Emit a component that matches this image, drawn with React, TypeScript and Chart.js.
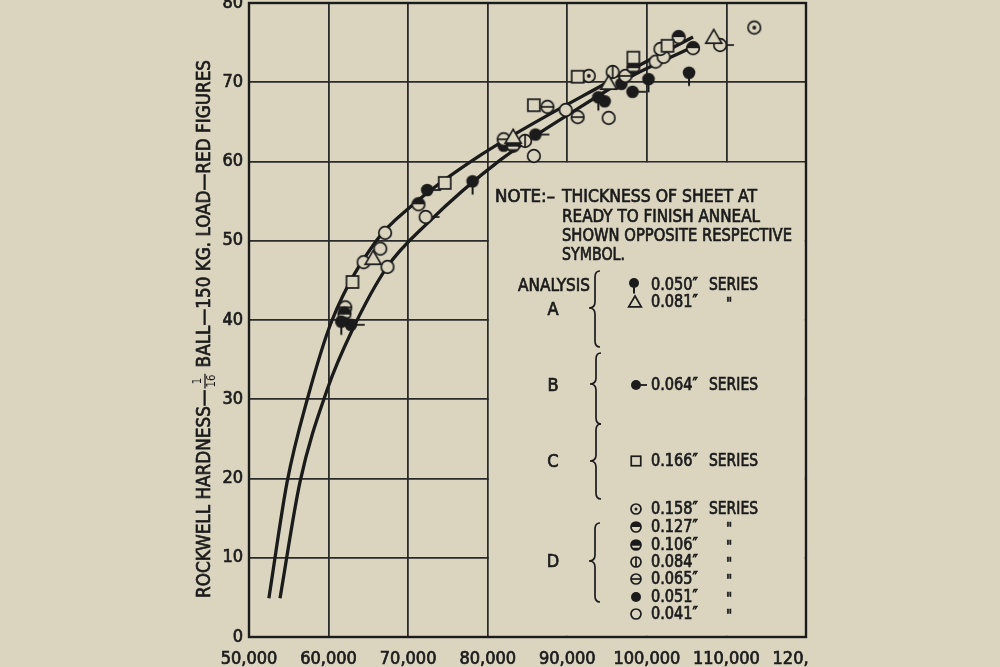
import React, { useEffect, useRef } from 'react';
import { Chart, registerables } from 'chart.js';

Chart.register(...registerables);

const BG = '#dbd5c0';
const INK = '#1b1b1b';
const GRID = '#2a2a2a';
const FONT = '"DejaVu Sans Condensed", "Liberation Sans Narrow", "DejaVu Sans", sans-serif';
const STROKE = 0.7;

// axis ticks
const xTickValues = [50000, 60000, 70000, 80000, 90000, 100000, 110000, 120000];
const yTickValues = [0, 10, 20, 30, 40, 50, 60, 70, 80];

// Analysis A
const a050 = [[61600, 39.8], [78100, 57.5], [93900, 68.1], [100200, 70.4], [105300, 71.2]];
const a081 = [[65600, 47.8], [83200, 63.1], [95200, 69.9], [108400, 75.7]];
// Analysis B
const b064 = [[62800, 39.4], [72400, 56.4], [86000, 63.4], [98200, 68.8]];
// Analysis C
const c166 = [[63000, 44.8], [74600, 57.3], [85800, 67.1], [91300, 70.7], [98300, 73.1], [102600, 74.6]];
// Analysis D
const d158 = [[92700, 70.8], [113500, 76.9]];
const d127 = [[71300, 54.6], [104000, 75.7], [105800, 74.3]];
const d106 = [[62000, 40.8], [83200, 62.0], [98300, 71.9]];
const d084 = [[84700, 62.6], [95700, 71.3]];
const d065 = [[62100, 41.6], [82000, 62.8], [87500, 66.9], [91300, 65.6], [97300, 70.8]];
const d051 = [[82000, 62.0], [94700, 67.6], [96800, 69.8]];
const d041 = [[64400, 47.3], [66500, 49.0], [67100, 51.0], [67400, 46.7], [85800, 60.7], [89800, 66.5], [95200, 65.5], [96100, 70.0], [101100, 72.6], [102100, 73.2], [101700, 74.2]];
const d041Tick = [[72200, 53.0], [109200, 74.7]];

// fitted curves
const upperCurve = [[52500, 4.9], [54800, 19.6], [57300, 29.9], [60450, 40.0], [66000, 50.0], [70300, 54.3], [79100, 60.8], [95100, 70.0], [105800, 75.7]];
const lowerCurve = [[53900, 4.9], [56420, 19.6], [59820, 31.2], [62970, 38.7], [67370, 46.7], [72410, 52.2], [81600, 60.2], [91670, 66.9], [97970, 70.7], [105900, 74.5]];

// texts
const yTitleA = 'ROCKWELL HARDNESS\u2014';
const yTitleNum = '1';
const yTitleDen = '16';
const yTitleB = ' BALL\u2014150 KG. LOAD\u2014RED FIGURES';
const noteHead = 'NOTE:\u2013';
const noteLines = ['THICKNESS OF SHEET AT', 'READY TO FINISH ANNEAL', 'SHOWN OPPOSITE RESPECTIVE', 'SYMBOL.'];
const analysisWord = 'ANALYSIS';
const groupLetters = ['A', 'B', 'C', 'D'];
const legendLabels = ['0.050\u2033', '0.081\u2033', '0.064\u2033', '0.166\u2033', '0.158\u2033', '0.127\u2033', '0.106\u2033', '0.084\u2033', '0.065\u2033', '0.051\u2033', '0.041\u2033'];
const legendKinds = ['pin', 'tri', 'dash', 'square', 'dot', 'half', 'band', 'vline', 'hline', 'solid', 'open'];
const seriesWord = 'SERIES';
const dittoMark = '"';

const pts = (arr: number[][]) => arr.map(([x, y]) => ({ x, y }));

function makeMarker(kind: string, r: number): HTMLCanvasElement {
  const s = Math.ceil(r * 6);
  const c = document.createElement('canvas');
  c.width = s;
  c.height = s;
  const g = c.getContext('2d')!;
  g.translate(s / 2, s / 2);
  g.lineWidth = 1.7;
  g.strokeStyle = INK;
  g.fillStyle = INK;
  const circle = () => {
    g.beginPath();
    g.arc(0, 0, r, 0, Math.PI * 2);
  };
  const openCircle = () => {
    circle();
    g.fillStyle = BG;
    g.fill();
    g.stroke();
    g.fillStyle = INK;
  };
  switch (kind) {
    case 'pin':
      circle();
      g.fill();
      g.beginPath();
      g.moveTo(0, r - 1);
      g.lineTo(0, r + r * 1.1);
      g.lineWidth = 2;
      g.stroke();
      break;
    case 'tri': {
      const h = r * 1.15;
      g.beginPath();
      g.moveTo(0, -h * 1.05);
      g.lineTo(h * 1.1, h * 0.85);
      g.lineTo(-h * 1.1, h * 0.85);
      g.closePath();
      g.fillStyle = BG;
      g.fill();
      g.stroke();
      break;
    }
    case 'dash':
      circle();
      g.fill();
      g.beginPath();
      g.moveTo(r - 1, 0);
      g.lineTo(r + r * 1.2, 0);
      g.lineWidth = 1.8;
      g.stroke();
      break;
    case 'square': {
      const a = r * 0.95;
      g.fillStyle = BG;
      g.fillRect(-a, -a, 2 * a, 2 * a);
      g.strokeRect(-a, -a, 2 * a, 2 * a);
      break;
    }
    case 'dot':
      openCircle();
      g.beginPath();
      g.arc(0, 0, r * 0.3, 0, Math.PI * 2);
      g.fill();
      break;
    case 'half':
      circle();
      g.fillStyle = BG;
      g.fill();
      g.beginPath();
      g.arc(0, 0, r, Math.PI, 0);
      g.closePath();
      g.fillStyle = INK;
      g.fill();
      circle();
      g.stroke();
      break;
    case 'band':
      circle();
      g.fill();
      g.save();
      circle();
      g.clip();
      g.fillStyle = BG;
      g.fillRect(-r, r * 0.15, 2 * r, r * 0.4);
      g.restore();
      circle();
      g.stroke();
      break;
    case 'vline':
      openCircle();
      g.beginPath();
      g.moveTo(0, -r);
      g.lineTo(0, r);
      g.stroke();
      break;
    case 'hline':
      openCircle();
      g.beginPath();
      g.moveTo(-r, 0);
      g.lineTo(r, 0);
      g.stroke();
      break;
    case 'solid':
      circle();
      g.fill();
      break;
    case 'opentick':
      openCircle();
      g.beginPath();
      g.moveTo(r, 0);
      g.lineTo(r + r * 1.2, 0);
      g.stroke();
      break;
    default:
      openCircle();
  }
  return c;
}

function fitText(ctx: CanvasRenderingContext2D, text: string, x: number, y: number, w: number, size = 18, align: CanvasTextAlign = 'left') {
  ctx.save();
  ctx.font = `${size}px ${FONT}`;
  const m = ctx.measureText(text).width;
  const s = w / m;
  ctx.translate(x, y);
  ctx.scale(s, 1);
  ctx.textBaseline = 'middle';
  ctx.textAlign = align;
  ctx.fillStyle = INK;
  ctx.strokeStyle = INK;
  ctx.lineWidth = STROKE;
  ctx.fillText(text, 0, 0);
  ctx.strokeText(text, 0, 0);
  ctx.restore();
}

function plainText(ctx: CanvasRenderingContext2D, text: string, x: number, y: number, size = 18, align: CanvasTextAlign = 'center') {
  ctx.save();
  ctx.font = `${size}px ${FONT}`;
  ctx.textBaseline = 'middle';
  ctx.textAlign = align;
  ctx.fillStyle = INK;
  ctx.strokeStyle = INK;
  ctx.lineWidth = STROKE;
  ctx.fillText(text, x, y);
  ctx.strokeText(text, x, y);
  ctx.restore();
}

function brace(ctx: CanvasRenderingContext2D, x: number, y1: number, y2: number, ym: number) {
  ctx.save();
  ctx.strokeStyle = INK;
  ctx.lineWidth = 1.7;
  ctx.beginPath();
  ctx.moveTo(x + 5, y1);
  ctx.quadraticCurveTo(x, y1, x, y1 + 6);
  ctx.lineTo(x, ym - 6);
  ctx.quadraticCurveTo(x, ym, x - 6, ym);
  ctx.quadraticCurveTo(x, ym, x, ym + 6);
  ctx.lineTo(x, y2 - 6);
  ctx.quadraticCurveTo(x, y2, x + 5, y2);
  ctx.stroke();
  ctx.restore();
}

export default function App() {
  const ref = useRef<HTMLCanvasElement>(null);

  useEffect(() => {
    const plotR = 6.3;
    const legR = 5;
    const kinds = ['pin', 'tri', 'dash', 'square', 'dot', 'half', 'band', 'vline', 'hline', 'solid', 'open', 'opentick'];
    const plotMarkers: Record<string, HTMLCanvasElement> = {};
    const legMarkers: Record<string, HTMLCanvasElement> = {};
    kinds.forEach((k) => {
      plotMarkers[k] = makeMarker(k, plotR);
      legMarkers[k] = makeMarker(k, legR);
    });

    const series: [number[][], string][] = [
      [a050, 'pin'], [a081, 'tri'], [b064, 'dash'], [c166, 'square'], [d158, 'dot'], [d127, 'half'],
      [d106, 'band'], [d084, 'vline'], [d065, 'hline'], [d051, 'solid'], [d041, 'open'], [d041Tick, 'opentick'],
    ];

    const pointSets = series.map(([data, kind]) => ({
      type: 'line' as const,
      data: pts(data),
      showLine: false,
      pointStyle: plotMarkers[kind],
      pointRadius: 7,
      order: 0,
    }));

    const curve = (data: number[][]) => ({
      type: 'line' as const,
      data: pts(data),
      showLine: true,
      borderColor: INK,
      borderWidth: 3.3,
      pointRadius: 0,
      tension: 0.4,
      cubicInterpolationMode: 'monotone' as const,
      fill: false,
      order: 5,
    });

    const overlay = {
      id: 'overlay',
      beforeDraw(chart: any) {
        const ctx = chart.ctx;
        ctx.save();
        ctx.fillStyle = BG;
        ctx.fillRect(0, 0, chart.width, chart.height);
        ctx.restore();
      },
      beforeDatasetsDraw(chart: any) {
        const { ctx, chartArea, scales } = chart;
        const x0 = scales.x.getPixelForValue(80000);
        const y0 = scales.y.getPixelForValue(60);
        ctx.save();
        ctx.fillStyle = BG;
        ctx.fillRect(x0 + 1.2, y0 + 1.2, chartArea.right - x0 - 2.4, chartArea.bottom - y0 - 2.4);
        ctx.strokeStyle = INK;
        ctx.lineWidth = 2.4;
        ctx.strokeRect(chartArea.left, chartArea.top, chartArea.right - chartArea.left, chartArea.bottom - chartArea.top);
        ctx.restore();
      },
      afterDraw(chart: any) {
        const ctx: CanvasRenderingContext2D = chart.ctx;
        // Y axis title with stacked fraction
        ctx.save();
        const cx = 204;
        const yTop = 60;
        const yBot = 598;
        const tSize = 20;
        ctx.translate(cx, (yTop + yBot) / 2);
        ctx.rotate(-Math.PI / 2);
        ctx.font = `${tSize}px ${FONT}`;
        const w1 = ctx.measureText(yTitleA).width;
        const w2 = ctx.measureText(yTitleB).width;
        ctx.font = `12px ${FONT}`;
        const wf = ctx.measureText(yTitleDen).width + 4;
        const total = w1 + wf + w2;
        const sx = (yBot - yTop) / total;
        ctx.scale(sx, 1);
        ctx.fillStyle = INK;
        ctx.strokeStyle = INK;
        ctx.lineWidth = STROKE;
        ctx.textBaseline = 'middle';
        let px = -total / 2;
        ctx.font = `${tSize}px ${FONT}`;
        ctx.textAlign = 'left';
        ctx.fillText(yTitleA, px, 1);
        ctx.strokeText(yTitleA, px, 1);
        px += w1;
        ctx.font = `12px ${FONT}`;
        ctx.textAlign = 'center';
        ctx.fillText(yTitleNum, px + wf / 2, -6);
        ctx.fillText(yTitleDen, px + wf / 2, 8);
        ctx.lineWidth = 1.3;
        ctx.beginPath();
        ctx.moveTo(px + 1, 1);
        ctx.lineTo(px + wf - 1, 1);
        ctx.stroke();
        px += wf;
        ctx.lineWidth = STROKE;
        ctx.font = `${tSize}px ${FONT}`;
        ctx.textAlign = 'left';
        ctx.fillText(yTitleB, px, 1);
        ctx.strokeText(yTitleB, px, 1);
        ctx.restore();

        // note
        fitText(ctx, noteHead, 495, 197, 60);
        const noteY = [197, 217, 236, 255];
        const noteW = [195, 198, 230, 63];
        noteLines.forEach((t, i) => fitText(ctx, t, 562, noteY[i], noteW[i]));

        // analysis
        fitText(ctx, analysisWord, 518, 286, 72);
        const letterY = [310, 386, 462, 562];
        groupLetters.forEach((l, i) => plainText(ctx, l, 553, letterY[i], 18));
        brace(ctx, 595, 271, 347, 308);
        brace(ctx, 596, 353, 424, 384);
        brace(ctx, 596, 424, 499, 461);
        brace(ctx, 595, 523, 602, 561);

        // legend rows
        const rowY = [285, 302, 385, 461, 509, 527, 545, 562, 579, 597, 614];
        const symX = [634, 635, 636, 636, 636, 636, 636, 636, 636, 636, 636];
        legendLabels.forEach((lab, i) => {
          const m = legMarkers[legendKinds[i]];
          const sy = legendKinds[i] === 'pin' ? rowY[i] - 2 : rowY[i];
          ctx.drawImage(m, symX[i] - m.width / 2, sy - m.height / 2);
          fitText(ctx, lab, 651, rowY[i], 47);
          if (i === 0 || i === 2 || i === 3 || i === 4) {
            fitText(ctx, seriesWord, 709, rowY[i], 49);
          } else {
            plainText(ctx, dittoMark, 729, rowY[i] + 3, 15);
          }
        });
      },
    };

    const chart = new Chart(ref.current!, {
      type: 'line',
      data: {
        datasets: [...pointSets, curve(upperCurve), curve(lowerCurve)] as any,
      },
      options: {
        animation: false,
        responsive: true,
        maintainAspectRatio: false,
        events: [],
        layout: { autoPadding: false, padding: { top: 3, right: 2, left: 0, bottom: 0 } },
        plugins: { legend: { display: false }, tooltip: { enabled: false } },
        scales: {
          x: {
            type: 'linear',
            min: 50000,
            max: 120000,
            afterBuildTicks: (s: any) => {
              s.ticks = xTickValues.map((v) => ({ value: v }));
            },
            ticks: {
              callback: (v: any) => Number(v).toLocaleString('en-US'),
              font: { family: FONT, size: 18 },
              color: INK,
              textStrokeColor: INK,
              textStrokeWidth: STROKE,
              padding: 12,
              maxRotation: 0,
              autoSkip: false,
            },
            grid: { color: GRID, lineWidth: 1.8, drawTicks: false },
            border: { display: false },
            afterFit: (s: any) => {
              s.height = 30;
              s.paddingLeft = 0;
              s.paddingRight = 0;
            },
          },
          y: {
            type: 'linear',
            min: 0,
            max: 80,
            afterBuildTicks: (s: any) => {
              s.ticks = yTickValues.map((v) => ({ value: v }));
            },
            ticks: {
              font: { family: FONT, size: 18 },
              color: INK,
              textStrokeColor: INK,
              textStrokeWidth: STROKE,
              padding: 6,
              autoSkip: false,
            },
            grid: { color: GRID, lineWidth: 1.8, drawTicks: false },
            border: { display: false },
            afterFit: (s: any) => {
              s.width = 249;
              s.paddingTop = 0;
              s.paddingBottom = 0;
            },
          },
        },
      },
      plugins: [overlay],
    } as any);

    return () => chart.destroy();
  }, []);

  return (
    <div style={{ position: 'fixed', inset: 0, background: BG }}>
      <div style={{ position: 'absolute', left: 0, top: 0, width: 808, height: 667 }}>
        <canvas ref={ref} />
      </div>
    </div>
  );
}
